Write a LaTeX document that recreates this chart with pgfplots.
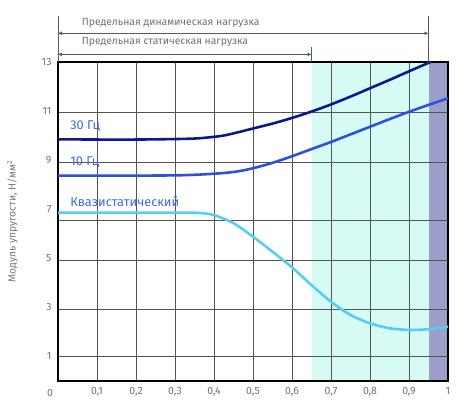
\documentclass[border=0pt]{standalone}
\usepackage{pgfplots}
\pgfplotsset{compat=1.18}
\usepackage{fontspec}
\setmainfont{Fira Sans}
\usetikzlibrary{arrows.meta}
\definecolor{navy}{HTML}{0A1890}
\definecolor{midblue}{HTML}{2E4FE0}
\definecolor{cyanl}{HTML}{55CFF0}
\definecolor{lab}{HTML}{3C6ED4}
\definecolor{regl}{HTML}{D5FBF4}
\definecolor{regd}{HTML}{9C9FC8}
\definecolor{gridc}{HTML}{555555}
\definecolor{txt}{HTML}{707070}
\definecolor{ylab}{HTML}{6A7E82}
\begin{document}
\begin{tikzpicture}
\begin{axis}[
  set layers,
  scale only axis, width=390bp, height=319bp,
  xmin=0, xmax=1, ymin=0, ymax=13,
  clip=false,
  xtick={0.1,0.2,0.3,0.4,0.5,0.6,0.7,0.8,0.9,1},
  xticklabels={{0,1},{0,2},{0,3},{0,4},{0,5},{0,6},{0,7},{0,8},{0,9},{1}},
  ytick={1,3,5,7,9,11,13},
  xmajorgrids,
  grid style={gridc, line width=0.75pt},
  extra y ticks={0.99,2.92,4.93,6.53,8.92,10.95},
  extra y tick labels={},
  extra y tick style={ymajorgrids=true},
  tick style={draw=none},
  major tick length=0pt,
  /pgf/number format/assume math mode=true,
  ticklabel style={font=\fontsize{10.5}{12}\selectfont, text=txt},
  xticklabel style={yshift=-3bp},
  yticklabel style={xshift=-3bp},
  axis line style={black, line width=1.5pt},
  ylabel={Модуль упругости, Н/мм\textsuperscript{2}},
  ylabel style={font=\fontsize{10.3}{12}\selectfont, text=ylab, at={(axis description cs:-0.094,0.5)}},
]
\addplot[fill=regl, draw=none, on layer=axis background, forget plot] coordinates {(0.65,13) (0.95,13)} \closedcycle;
\addplot[fill=regd, draw=none, on layer=axis background, forget plot] coordinates {(0.95,13) (1,13)} \closedcycle;

\addplot[navy, line width=2.6pt, smooth] coordinates {
(0,9.85) (0.1,9.84) (0.2,9.84) (0.3,9.86) (0.36,9.89) (0.42,9.99) (0.46,10.13) (0.5,10.29) (0.55,10.49) (0.6,10.72) (0.65,10.98) (0.7,11.27) (0.75,11.59) (0.8,11.93) (0.85,12.27) (0.9,12.62) (0.955,13.0)};
\addplot[midblue, line width=2.6pt, smooth] coordinates {
(0,8.37) (0.1,8.37) (0.2,8.37) (0.3,8.38) (0.36,8.41) (0.42,8.47) (0.46,8.54) (0.5,8.67) (0.55,8.89) (0.6,9.16) (0.65,9.45) (0.7,9.74) (0.75,10.05) (0.8,10.36) (0.85,10.67) (0.9,10.97) (0.95,11.25) (1.0,11.52)};
\addplot[cyanl, line width=2.6pt, smooth] coordinates {
(0,6.86) (0.1,6.86) (0.2,6.86) (0.3,6.86) (0.36,6.85) (0.4,6.76) (0.45,6.43) (0.5,5.88) (0.55,5.27) (0.6,4.63) (0.65,3.91) (0.7,3.23) (0.75,2.69) (0.8,2.35) (0.85,2.15) (0.9,2.08) (0.95,2.11) (1.0,2.21)};

\node[anchor=west, inner sep=0, text=lab, font=\fontsize{12.8}{14}\selectfont] at (axis cs:0.031,10.39) {30 Гц};
\node[anchor=west, inner sep=0, text=lab, font=\fontsize{12.8}{14}\selectfont] at (axis cs:0.031,8.94) {10 Гц};
\node[anchor=west, inner sep=0, text=lab, font=\fontsize{12.8}{14}\selectfont] at (axis cs:0.031,7.31) {Квазистатический};

\draw[txt!80!black, line width=0.8pt] (axis cs:0,13) -- (axis cs:0,14.87);
\draw[txt!80!black, line width=0.8pt] (axis cs:0.95,13) -- (axis cs:0.95,14.87);
\draw[txt!80!black, line width=0.8pt] (axis cs:0.65,13) -- (axis cs:0.65,13.62);
\draw[txt!80!black, line width=0.7pt, {Latex[length=4bp,width=4bp]}-{Latex[length=4bp,width=4bp]}] (axis cs:0,14.17) -- (axis cs:0.95,14.17);
\draw[txt!80!black, line width=0.7pt, {Latex[length=4bp,width=4bp]}-{Latex[length=4bp,width=4bp]}] (axis cs:0,13.31) -- (axis cs:0.65,13.31);
\node[anchor=west, inner sep=0, text=txt, font=\fontsize{10.4}{12}\selectfont] at (axis cs:0.061,14.58) {Предельная динамическая нагрузка};
\node[anchor=west, inner sep=0, text=txt, font=\fontsize{10.4}{12}\selectfont] at (axis cs:0.061,13.8) {Предельная статическая нагрузка};
\node[text=txt, font=\fontsize{10.5}{12}\selectfont] at ([xshift=-8bp,yshift=-12bp]axis cs:0,0) {0};
\end{axis}
\pgfresetboundingbox
\useasboundingbox (-58bp,-19bp) rectangle (412bp,381bp);
\end{tikzpicture}
\end{document}
